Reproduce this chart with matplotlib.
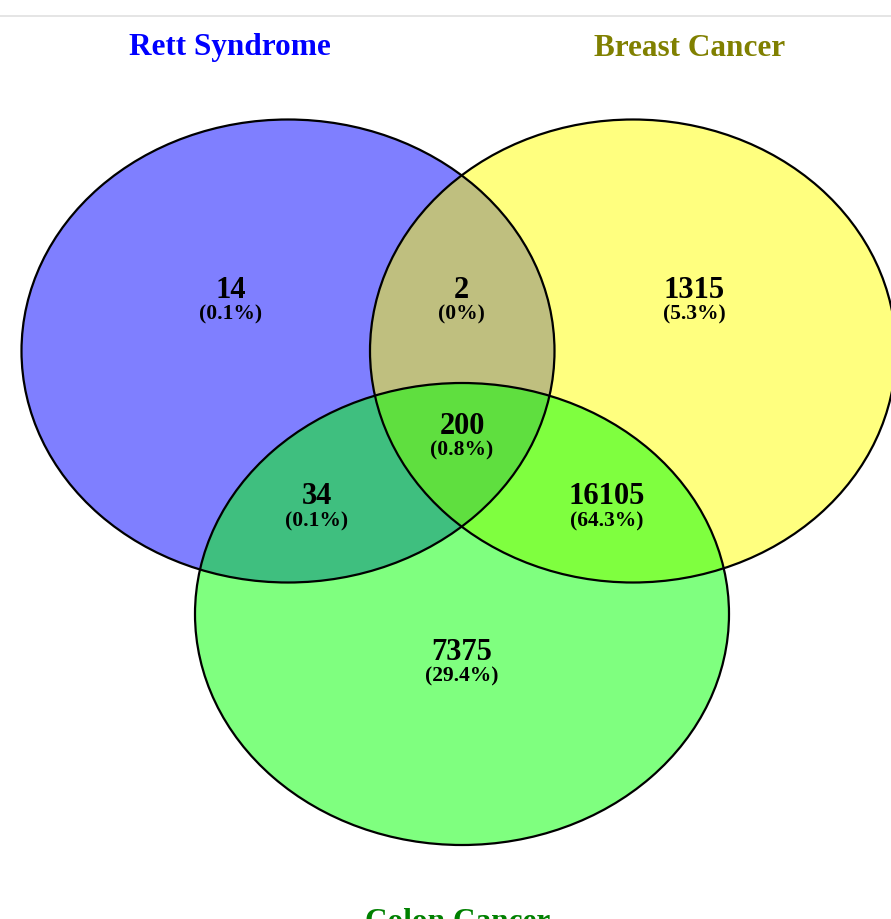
import matplotlib.pyplot as plt
from matplotlib.patches import Ellipse

# ---------------------------------------------------------------------------
# Data
# ---------------------------------------------------------------------------
set_names = ['Rett Syndrome', 'Breast Cancer', 'Colon Cancer']
set_colors = ['#0000FF', '#FFFF00', '#00FF00']
title_colors = ['#0000FF', '#808000', '#008000']

# regions: R only, R&B, B only, R&B&C, R&C, B&C, C only
region_counts = [14, 2, 1315, 200, 34, 16105, 7375]
region_pcts = ['(0.1%)', '(0%)', '(5.3%)', '(0.8%)', '(0.1%)', '(64.3%)', '(29.4%)']

# ---------------------------------------------------------------------------
# Layout (pixel space, y downwards)
# ---------------------------------------------------------------------------
W, H = 891, 919
ellipses = [(288, 351, 533, 463), (633, 351, 526, 463), (462, 614, 534, 462)]
title_pos = [(230, 48), (690, 48), (458, 923)]
region_pos = [(231, 290), (461, 290), (694, 290), (462, 426),
              (317, 497), (607, 497), (462, 652)]

plt.rcParams['font.family'] = ['Liberation Serif', 'DejaVu Serif']

fig = plt.figure(figsize=(W / 100, H / 100), dpi=100)
ax = fig.add_axes([0, 0, 1, 1])
ax.set_xlim(0, W)
ax.set_ylim(H, 0)
ax.axis('off')

# thin separator line at top
ax.plot([0, W], [16, 16], color='#e0e0e0', lw=1.2)

for (cx, cy, w, h), col in zip(ellipses, set_colors):
    ax.add_patch(Ellipse((cx, cy), w, h, facecolor=col, alpha=0.5,
                         edgecolor='none'))
for (cx, cy, w, h) in ellipses:
    ax.add_patch(Ellipse((cx, cy), w, h, facecolor='none',
                         edgecolor='black', lw=1.6))

for name, col, (x, y) in zip(set_names, title_colors, title_pos):
    ax.text(x, y, name, color=col, fontsize=22.5, fontweight='bold',
            ha='center', va='center')

for n, p, (x, y) in zip(region_counts, region_pcts, region_pos):
    ax.text(x, y, str(n), fontsize=22, fontweight='bold',
            ha='center', va='center')
    ax.text(x, y + 24, p, fontsize=15.5, fontweight='bold',
            ha='center', va='center')

fig.savefig('out.png', dpi=100)
